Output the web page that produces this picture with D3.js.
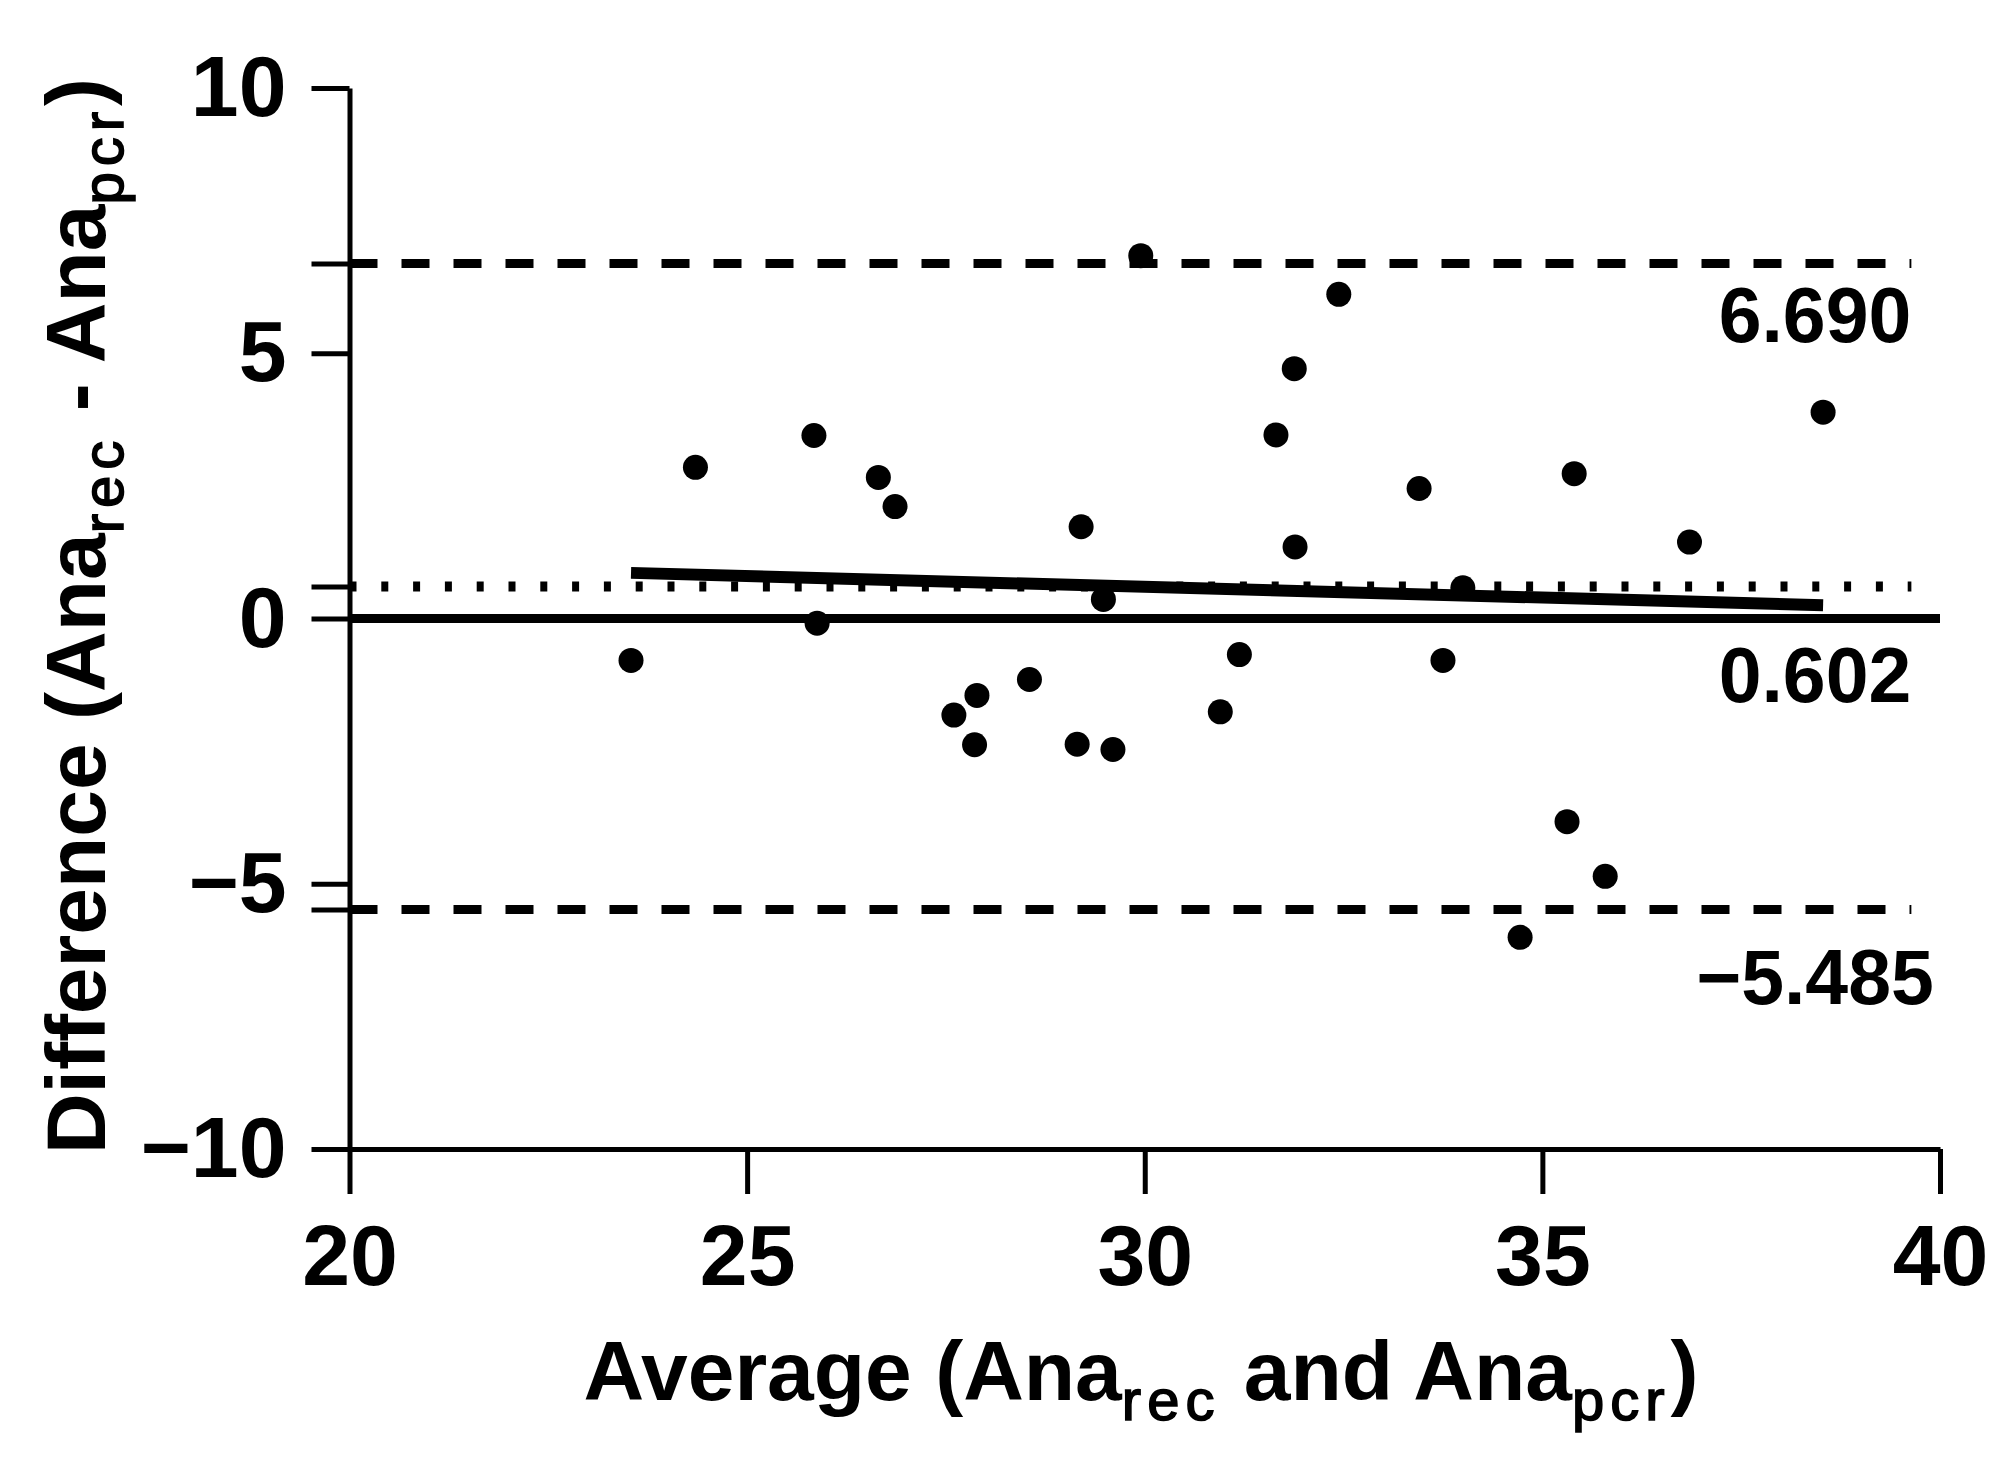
<!DOCTYPE html>
<html>
<head>
<meta charset="utf-8">
<script src="https://cdn.jsdelivr.net/npm/d3@7"></script>
<style>
  html, body { margin: 0; padding: 0; background: #ffffff; }
  svg { display: block; }
  text { font-family: "Liberation Sans", Arial, Helvetica, sans-serif; fill: #000; }
</style>
</head>
<body>
<svg id="chart" width="2010" height="1458"></svg>
<script>
// ---- data ----
const averageValues = [23.54, 24.35, 25.84, 25.88, 26.65, 26.86, 27.60, 27.89, 27.86, 28.55,
                       29.15, 29.20, 29.48, 29.60, 29.95, 30.95, 31.19, 31.65, 31.88, 31.89,
                       32.44, 33.45, 33.75, 34.00, 34.72, 35.31, 35.40, 35.79, 36.85, 38.53];
const differenceValues = [-0.79, 2.85, 3.45, -0.09, 2.66, 2.11, -1.82, -1.45, -2.38, -1.15,
                          -2.37, 1.73, 0.36, -2.47, 6.84, -1.76, -0.68, 3.46, 4.71, 1.35,
                          6.11, 2.45, -0.79, 0.58, -6.01, -3.83, 2.73, -4.86, 1.44, 3.89];
const upperLimit = 6.690;
const bias = 0.602;
const lowerLimit = -5.485;
const limitLabels = ["6.690", "0.602", "\u22125.485"];
const regressionX = [23.54, 38.53];
const regressionY = [0.86, 0.25];
const xTicks = [20, 25, 30, 35, 40];
const yTicks = [-10, -5, 0, 5, 10];
const xDomain = [20, 40];
const yDomain = [-10, 10];
const lineEndX = 39.64;

// ---- layout ----
const svg = d3.select("#chart");
const x = d3.scaleLinear().domain(xDomain).range([349.5, 1940]);
const y = d3.scaleLinear().domain(yDomain).range([1149, 88]);
const minusFmt = d => (d < 0 ? "\u2212" + Math.abs(d) : String(d));

const g = svg.append("g");
// zero line
g.append("line")
  .attr("x1", x(xDomain[0])).attr("x2", x(xDomain[1]))
  .attr("y1", y(0)).attr("y2", y(0))
  .attr("stroke", "#000").attr("stroke-width", 9);

// limits of agreement (dashed)
[upperLimit, lowerLimit].forEach(v => {
  g.append("line")
    .attr("x1", x(xDomain[0])).attr("x2", x(lineEndX))
    .attr("y1", y(v)).attr("y2", y(v))
    .attr("stroke", "#000").attr("stroke-width", 9)
    .attr("stroke-dasharray", "28,24");
});

// bias (dotted)
g.append("line")
  .attr("x1", x(xDomain[0])).attr("x2", x(lineEndX))
  .attr("y1", y(bias)).attr("y2", y(bias))
  .attr("stroke", "#000").attr("stroke-width", 10)
  .attr("stroke-dasharray", "7,24.8");

// regression line
const line = d3.line().x(d => x(d[0])).y(d => y(d[1]));
g.append("path")
  .datum(regressionX.map((v, i) => [v, regressionY[i]]))
  .attr("d", line)
  .attr("fill", "none").attr("stroke", "#000").attr("stroke-width", 12);

// points
svg.append("g").selectAll("circle")
  .data(averageValues.map((v, i) => [v, differenceValues[i]]))
  .join("circle")
  .attr("cx", d => x(d[0])).attr("cy", d => y(d[1]))
  .attr("r", 12.5).attr("fill", "#000");

// limit labels
const labelVals = [upperLimit, bias, lowerLimit];
const labelOffsets = [78, 115, 95];
svg.append("g").selectAll("text")
  .data(labelVals)
  .join("text")
  .attr("x", 1815)
  .attr("y", (d, i) => y(d) + labelOffsets[i])
  .attr("text-anchor", "middle")
  .attr("font-size", 77).attr("font-weight", "bold")
  .text((d, i) => limitLabels[i]);

// axes
const yAxis = d3.axisLeft(y).tickValues(yTicks).tickFormat(minusFmt)
  .tickSize(38).tickSizeOuter(0).tickPadding(25);
const yAxisG = svg.append("g").attr("transform", `translate(${x(xDomain[0])},0)`).call(yAxis);
const yExtra = d3.axisLeft(y).tickValues(labelVals).tickFormat("").tickSize(38).tickSizeOuter(0);
const yExtraG = svg.append("g").attr("transform", `translate(${x(xDomain[0])},0)`).call(yExtra);
yExtraG.select(".domain").remove();

const xAxis = d3.axisBottom(x).tickValues(xTicks).tickFormat(minusFmt)
  .tickSize(45).tickSizeOuter(0).tickPadding(30);
const xAxisG = svg.append("g").attr("transform", `translate(0,${y(yDomain[0])})`).call(xAxis);

[yAxisG, yExtraG, xAxisG].forEach(a => {
  a.selectAll("path, line").attr("stroke", "#000").attr("stroke-width", 5);
  a.selectAll("text").attr("font-size", 86).attr("font-weight", "bold")
    .attr("font-family", "'Liberation Sans', Arial, sans-serif").attr("fill", "#000");
});

// axis titles
function sub(t, text, shift) {
  t.append("tspan").attr("dy", shift).attr("font-size", 58).attr("font-weight", "normal")
    .attr("letter-spacing", 6).attr("stroke", "#000").attr("stroke-width", 1.6)
    .text(text);
}
const xt = svg.append("text")
  .attr("x", 1141).attr("y", 1400)
  .attr("text-anchor", "middle").attr("font-size", 84).attr("font-weight", "bold");
xt.append("tspan").text("Average (Ana");
sub(xt, "rec", 20);
xt.append("tspan").attr("dy", -20).text(" and Ana");
sub(xt, "pcr", 20);
xt.append("tspan").attr("dy", -20).text(")");

const yt = svg.append("text")
  .attr("transform", "translate(105,616) rotate(-90)")
  .attr("text-anchor", "middle").attr("font-size", 84).attr("font-weight", "bold");
yt.append("tspan").text("Difference (Ana");
sub(yt, "rec", 18);
yt.append("tspan").attr("dy", -18).text(" - Ana");
sub(yt, "pcr", 18);
yt.append("tspan").attr("dy", -18).text(")");
</script>
</body>
</html>
